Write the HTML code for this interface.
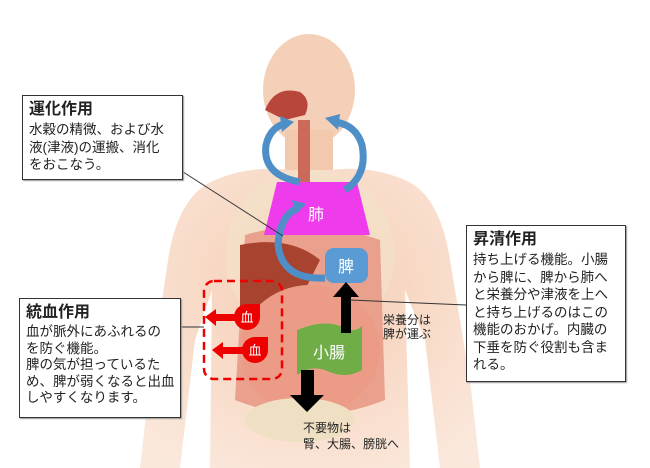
<!DOCTYPE html>
<html><head><meta charset="utf-8"><style>
body{margin:0;width:650px;height:468px;background:#fff;overflow:hidden;position:relative;font-family:"Liberation Sans","Noto Sans CJK JP",sans-serif}
.box{position:absolute;background:#fff;border:1px solid #333;box-shadow:1px 1px 1px #999;padding:3px 6px;color:#222}
.box h3{margin:0;font-size:16px;font-weight:bold;line-height:22px}
.box p{margin:0;font-size:13.5px;line-height:17.5px;white-space:nowrap}
.t{position:absolute;font-size:12px;line-height:14px;color:#222}
</style></head><body>
<svg width="650" height="468" style="position:absolute;left:0;top:0">
<defs>
<radialGradient id="sk" cx="50%" cy="40%" r="70%"><stop offset="0" stop-color="#f5cdb4"/><stop offset="1" stop-color="#fbe8dc"/></radialGradient>
</defs>
<ellipse cx="309" cy="90" rx="46" ry="56" fill="#f5d0b8"/>
<rect x="285" y="130" width="48" height="50" fill="#f3c9ae"/>
<path d="M215 180 Q250 165 290 170 L330 170 Q370 165 405 180 Q440 195 450 260 L470 380 L480 468 L440 468 L425 340 L405 290 L410 468 L210 468 L212 290 L195 340 L180 468 L140 468 L150 380 L168 260 Q178 195 215 180 Z" fill="url(#sk)"/>
<ellipse cx="310" cy="255" rx="85" ry="85" fill="#f2e2c8" opacity=".6"/>
<path d="M245 235 Q310 215 380 240 L385 400 Q310 430 235 400 Z" fill="#e9a08c"/>
<path d="M240 245 Q290 235 320 260 L300 300 Q260 310 240 320 Z" fill="#a8432f"/>
<ellipse cx="310" cy="350" rx="70" ry="65" fill="#ec9c86"/>
<ellipse cx="300" cy="420" rx="55" ry="22" fill="#efe0c4"/>
<path d="M265 110 Q275 85 300 92 Q312 100 305 115 L285 120 Z" fill="#b9463a"/>
<rect x="298" y="120" width="12" height="65" fill="#cc6a5a"/>
<polygon points="277,182 357,182 370,235 264,235" fill="#ee3bec"/>
<g fill="none" stroke="#4e8fc7" stroke-width="7">
<path d="M300 182 Q262 175 266 145 Q270 128 284 124"/>
<path d="M345 190 Q368 175 362 145 Q356 125 335 122"/>
<path d="M325 278 Q282 280 278 245 Q280 215 298 208"/>
</g>
<g fill="#4e8fc7">
<polygon points="280,116 294,122 282,132"/>
<polygon points="325,118 340,114 338,130"/>
<polygon points="292,200 306,204 296,214"/>
</g>
<rect x="325" y="248" width="43" height="35" rx="9" fill="#5b9bd5"/>
<path d="M297 330 Q325 318 345 328 Q355 333 362 326 L362 370 Q345 380 325 370 Q310 365 297 375 Z" fill="#70ad47"/>
<polygon points="341,333 351,333 351,297 359,297 346,282 333,297 341,297" fill="#000"/>
<polygon points="301,370 314,370 314,395 324,395 307,412 290,395 301,395" fill="#000"/>
<rect x="204" y="281" width="78" height="98" rx="10" fill="none" stroke="#e00" stroke-width="2.5" stroke-dasharray="8,5"/>
<g fill="#e00">
<path d="M247 304 L260 304 L260 317 A13 13 0 1 1 247 304 Z"/>
<path d="M255 337 L268 337 L268 350 A13 13 0 1 1 255 337 Z"/>
<polygon points="205,317 216,309 216,314 236,314 236,321 216,321 216,326"/>
<polygon points="212,350 223,342 223,347 243,347 243,354 223,354 223,359"/>
</g>
<g stroke="#333" stroke-width="1">
<line x1="180" y1="170" x2="283" y2="236"/>
<line x1="466" y1="305" x2="350" y2="300"/>
<line x1="180" y1="327" x2="204" y2="327"/>
</g>
<g font-family="Liberation Sans,Noto Sans CJK JP,sans-serif" fill="#fff" font-size="16" text-anchor="middle">
<text x="316" y="220">肺</text>
<text x="346" y="272">脾</text>
<text x="329" y="358">小腸</text>
<text x="247" y="322" font-size="13">血</text>
<text x="255" y="355" font-size="13">血</text>
</g>
</svg>
<div class="box" style="left:22px;top:95px;width:147px;height:77px"><h3>運化作用</h3><p>水穀の精微、および水<br>液(津液)の運搬、消化<br>をおこなう。</p></div>
<div class="box" style="left:19px;top:298px;width:148px;height:112px"><h3>統血作用</h3><p style="line-height:16.5px">血が脈外にあふれるの<br>を防ぐ機能。<br>脾の気が担っているた<br>め、脾が弱くなると出血<br>しやすくなります。</p></div>
<div class="box" style="left:466px;top:225px;width:146px;height:149px"><h3>昇清作用</h3><p>持ち上げる機能。小腸<br>から脾に、脾から肺へ<br>と栄養分や津液を上へ<br>と持ち上げるのはこの<br>機能のおかげ。内臓の<br>下垂を防ぐ役割も含ま<br>れる。</p></div>
<div class="t" style="left:383px;top:313px">栄養分は<br>脾が運ぶ</div>
<div class="t" style="left:303px;top:420px;line-height:16px">不要物は<br>腎、大腸、膀胱へ</div>
</body></html>
